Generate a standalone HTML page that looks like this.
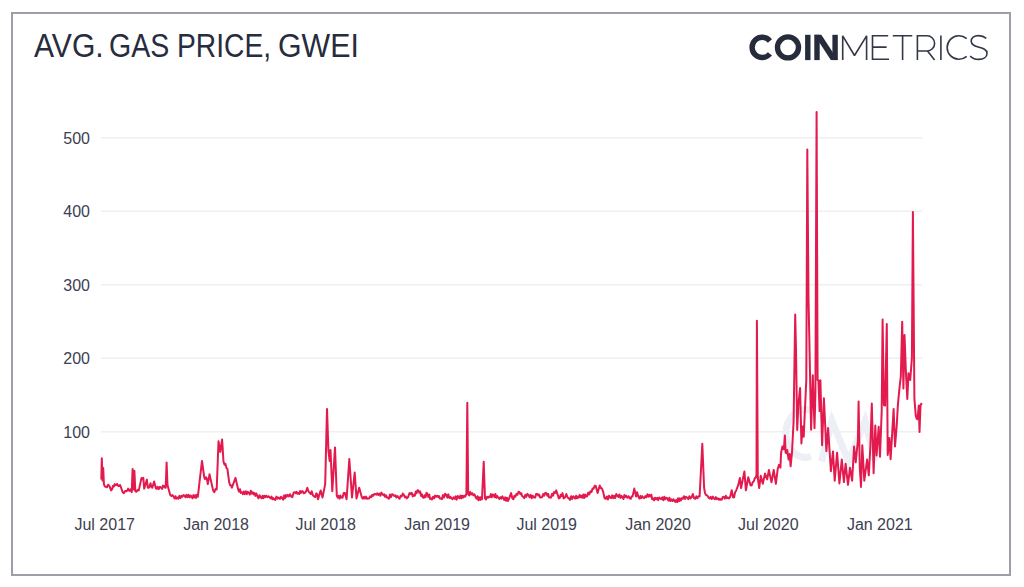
<!DOCTYPE html>
<html><head><meta charset="utf-8">
<style>
html,body{margin:0;padding:0;background:#fff;}
body{width:1024px;height:587px;position:relative;overflow:hidden;font-family:"Liberation Sans",sans-serif;}
.frame{position:absolute;left:11px;top:12px;width:996px;height:560px;border:2px solid #9d9fa8;}
.title{position:absolute;top:27px;font-size:33px;line-height:38px;color:#272c3e;white-space:nowrap;transform-origin:0 0;}
.yl{position:absolute;left:0;width:90px;text-align:right;font-size:16px;line-height:19px;color:#3c4051;}
.xl{position:absolute;top:515px;width:100px;text-align:center;font-size:16px;line-height:19px;color:#3c4051;}
svg{position:absolute;left:0;top:0;}
</style></head><body>
<div class="frame"></div>
<div class="title" style="left:34px;transform:scaleX(0.912)">AVG.</div><div class="title" style="left:109.4px;transform:scaleX(0.864)">GAS</div><div class="title" style="left:176.9px;transform:scaleX(0.855)">PRICE,</div><div class="title" style="left:277.5px;transform:scaleX(0.919)">GWEI</div>
<svg width="1024" height="587" viewBox="0 0 1024 587">
<g stroke="#efefef" stroke-width="1.5"><line x1="101" x2="922" y1="137.8" y2="137.8"/><line x1="101" x2="922" y1="211.3" y2="211.3"/><line x1="101" x2="922" y1="284.8" y2="284.8"/><line x1="101" x2="922" y1="358.3" y2="358.3"/><line x1="101" x2="922" y1="431.7" y2="431.7"/></g>
<g fill="none" stroke="#edeff6" stroke-width="7" stroke-linecap="butt" stroke-miterlimit="20">
<path d="M811,410.3 A20,24 0 1 0 811,456.7"/>
<path d="M821.5,461.5 L832,421 L848.5,461.5 L865,421 L875.5,461.5"/>
</g>
<g fill="#272c3d">
<path d="M762.2,47.4 m7.74,-6.49 A10.1,10.1 0 1 0 769.94,53.89" fill="none" stroke="#272c3d" stroke-width="5.4"/>
<circle cx="788" cy="47.4" r="10.5" fill="none" stroke="#272c3d" stroke-width="5.4"/>
<rect x="805.1" y="34.8" width="5.4" height="25.3"/>
<rect x="814.3" y="34.8" width="5.4" height="25.3"/>
<rect x="832.4" y="34.8" width="5.4" height="25.3"/>
<polygon points="814.3,34.8 821.3,34.8 837.8,60.1 830.8,60.1"/>
</g>
<g fill="none" stroke="#333748" stroke-width="1.6" stroke-miterlimit="1.5">
<path d="M842.7,60 V35.8 L854.5,55.5 L866.6,35.8 V60"/>
<path d="M888.2,35.8 H872.5 V59.2 H889 M872.5,47.1 H886.6"/>
<path d="M892.8,35.8 H912.3 M902.6,35.8 V60"/>
<path d="M917.4,60 V35.8 H927 A7.6,7.6 0 0 1 927,51 H917.4 M927.5,51 L934.6,60"/>
<path d="M940.9,35.4 V60"/>
<path d="M966.7,38.6 A11.8,11.8 0 1 0 966.7,56.4"/>
<path d="M986.3,38.3 C984,36.3 981.5,35.6 978.6,35.6 C974,35.6 971.2,38 971.2,41.3 C971.2,49.2 987,45.4 987,53.3 C987,56.8 984,59.4 978.6,59.4 C975,59.4 971.8,58 970.2,56"/>
</g>
<polyline fill="none" stroke="#e31a4e" stroke-width="2" stroke-linejoin="round" points="101.3,479.6 101.8,458.2 102.5,480.5 103.2,468.0 103.9,484.1 104.8,486.4 105.7,486.8 106.9,487.2 108.1,484.7 109.3,485.9 111.1,490.4 112.0,489.4 112.9,485.9 113.8,486.7 114.7,484.1 115.9,485.3 117.1,484.0 118.3,485.9 119.2,486.0 120.1,485.0 122.7,492.2 123.9,493.1 125.1,491.0 126.3,491.3 127.2,490.6 128.1,488.6 129.3,490.9 130.5,489.3 131.7,492.2 132.6,468.9 133.5,489.5 134.4,470.7 135.3,491.3 136.5,491.7 137.6,489.9 138.8,490.4 141.5,477.9 142.4,479.3 143.3,477.9 144.2,488.6 146.9,479.6 147.8,487.7 149.2,487.4 150.5,483.2 151.4,486.8 152.3,487.7 154.1,481.4 155.9,488.6 156.8,488.8 157.6,486.8 158.8,489.1 160.0,486.8 161.2,487.7 162.1,488.9 163.0,485.6 163.9,485.9 164.8,487.5 165.7,487.7 166.6,462.6 167.5,485.0 170.2,494.9 171.4,496.1 172.5,495.1 173.7,496.6 174.6,498.5 175.5,496.3 176.4,498.6 177.3,497.5 178.3,498.7 179.4,495.9 180.4,498.1 181.4,495.9 182.4,496.8 183.5,495.1 184.5,495.7 185.5,497.3 186.5,494.8 187.5,497.1 188.6,494.8 189.6,497.5 190.6,495.5 191.6,496.6 192.5,498.3 193.4,495.1 194.3,497.5 195.2,495.2 196.1,497.9 197.0,494.8 197.9,496.6 199.7,480.5 202.0,460.9 204.2,477.0 205.1,479.2 206.0,477.2 206.9,478.7 207.8,484.1 209.5,474.3 213.1,490.4 214.3,492.1 215.5,489.1 216.7,489.5 218.5,441.2 220.3,451.9 222.1,439.4 223.5,461.7 224.5,464.6 225.4,463.7 226.4,467.8 227.4,468.9 229.2,482.3 230.1,485.3 231.0,485.3 231.9,487.7 235.5,477.9 238.2,489.5 239.1,491.7 240.0,489.2 240.9,492.9 241.8,492.2 242.8,494.1 243.8,491.5 244.8,494.1 245.9,491.3 246.9,494.2 247.9,491.8 248.9,493.1 249.8,494.6 250.8,490.7 251.8,493.6 252.7,492.2 253.6,494.4 254.5,493.0 255.4,495.9 256.3,493.5 257.2,495.7 258.4,498.3 259.5,495.2 260.7,497.5 261.6,498.1 262.5,495.8 263.4,498.1 264.3,495.8 265.2,497.2 266.1,495.7 267.3,497.1 268.5,496.2 269.7,497.5 270.6,498.4 271.5,496.6 272.4,499.3 273.3,498.1 274.2,499.3 275.3,499.9 276.4,496.6 277.5,498.6 278.6,497.5 279.8,499.0 281.0,496.8 282.2,498.4 283.1,499.6 284.0,495.5 284.9,498.4 285.8,495.1 286.7,496.6 287.6,494.9 288.8,496.5 290.0,494.2 291.2,496.6 292.4,497.1 293.5,492.9 294.7,492.2 295.6,493.2 296.5,491.8 297.4,493.7 298.3,493.1 299.2,494.0 300.1,491.0 301.0,492.9 301.9,491.2 302.8,491.3 303.7,493.3 304.6,493.1 306.0,491.5 307.3,487.7 308.6,491.7 310.0,493.1 310.9,494.1 311.7,491.3 313.0,495.5 314.4,496.6 315.3,497.0 316.2,493.4 317.1,494.0 318.0,499.3 320.7,490.4 322.5,497.5 325.2,484.1 327.0,408.9 328.4,450.1 329.6,460.9 330.5,450.1 332.3,491.3 335.0,447.4 336.8,495.7 337.7,497.6 338.6,495.8 339.5,498.6 340.4,495.5 341.3,497.5 342.5,497.8 343.7,492.9 344.9,493.1 346.6,499.3 349.3,459.1 352.0,497.5 354.7,472.5 356.5,498.4 359.2,487.7 361.9,497.5 362.9,498.7 364.0,496.7 365.0,498.6 366.0,496.6 367.1,498.8 368.1,498.4 369.1,498.4 370.2,496.3 371.2,497.3 372.2,494.9 373.2,495.8 374.3,494.1 375.3,494.0 376.3,494.7 377.3,493.3 378.3,495.0 379.4,493.5 380.4,495.8 381.4,492.6 382.4,494.0 383.3,495.3 384.2,494.3 385.1,496.8 386.0,495.3 386.9,497.6 387.8,497.5 388.9,498.8 390.0,494.5 391.0,497.1 392.1,494.2 393.2,494.9 394.3,496.0 395.3,495.3 396.4,497.5 397.4,496.1 398.5,497.5 399.6,498.7 400.7,495.7 401.7,496.5 402.8,493.5 403.9,494.9 404.9,497.4 405.8,496.5 406.8,498.4 408.1,497.1 409.5,493.1 410.6,494.1 411.7,492.7 412.8,496.4 413.9,494.9 414.8,495.8 415.7,491.6 416.6,493.1 417.5,490.2 418.4,490.4 419.3,492.6 420.2,491.6 421.1,496.0 422.0,494.4 422.9,497.5 423.8,497.8 424.7,495.3 425.6,497.1 426.5,492.7 427.4,494.0 428.3,496.9 429.2,494.5 430.1,499.0 431.0,498.4 432.0,499.6 433.1,496.7 434.1,498.3 435.1,495.6 436.2,496.7 437.2,495.7 438.1,496.9 439.0,496.1 439.9,498.6 440.8,498.4 441.9,499.2 443.0,495.1 444.0,497.5 445.1,493.7 446.2,494.9 447.3,497.6 448.3,494.4 449.4,498.0 450.4,496.9 451.5,498.4 452.5,499.1 453.6,497.3 454.6,498.8 455.6,496.4 456.6,499.6 457.7,495.9 458.7,497.5 459.6,498.4 460.5,495.4 461.4,498.3 462.3,495.7 463.2,497.5 464.1,495.7 465.2,496.7 466.4,494.0 467.3,402.7 468.2,494.0 469.2,495.4 470.1,491.9 471.1,494.5 472.1,493.1 473.3,495.3 474.5,494.3 475.7,497.5 476.6,498.8 477.5,496.3 478.4,500.2 479.3,497.4 480.2,499.9 481.1,497.1 482.0,499.3 483.7,461.7 485.0,498.4 486.0,499.5 487.1,496.7 488.1,497.7 489.1,496.6 490.0,497.0 490.9,494.1 491.8,497.3 492.7,494.5 493.6,494.9 494.5,497.2 495.4,494.0 496.3,497.9 497.2,496.0 498.1,497.5 499.2,499.0 500.2,497.2 501.3,498.6 502.3,496.3 503.4,498.4 504.3,500.0 505.2,497.4 506.1,500.8 507.0,497.8 507.9,501.0 508.8,499.3 511.1,493.1 512.4,498.4 513.4,499.3 514.4,495.8 515.4,496.6 516.5,493.9 517.5,494.8 518.5,491.7 519.5,492.2 520.4,494.2 521.3,493.3 522.2,496.2 523.1,496.6 524.2,498.1 525.3,494.9 526.3,496.8 527.4,493.9 528.5,494.9 529.6,497.3 530.7,494.8 531.7,498.3 532.8,495.7 533.9,497.5 535.1,497.6 536.2,493.9 537.4,494.0 538.3,495.4 539.2,494.6 540.1,497.4 541.0,497.5 542.1,497.1 543.2,494.0 544.2,495.6 545.3,492.8 546.4,493.1 547.3,495.8 548.2,494.0 549.1,497.4 550.0,497.5 551.0,497.6 552.1,493.8 553.1,495.6 554.1,492.1 555.2,492.9 556.2,490.4 558.9,498.4 559.8,497.9 560.7,494.8 561.6,496.1 562.5,493.1 563.6,498.4 565.0,497.5 566.3,494.0 567.6,497.5 568.9,498.4 570.0,499.9 571.1,496.2 572.1,499.0 573.2,496.3 574.3,497.5 575.2,498.5 576.1,495.8 577.0,498.4 577.9,496.6 578.8,497.6 579.7,494.9 580.6,497.1 581.5,495.7 582.4,497.8 583.3,494.5 584.2,498.1 585.1,494.5 586.0,496.6 587.1,496.2 588.2,492.6 589.3,494.5 590.4,491.3 591.5,492.0 592.6,488.4 593.6,488.7 594.7,485.8 595.8,485.9 597.6,493.1 599.7,485.5 600.8,488.0 601.9,488.5 603.0,491.3 604.7,498.4 605.8,498.8 606.9,496.5 607.9,499.5 609.0,495.8 610.1,497.5 611.1,498.0 612.2,495.4 613.2,498.2 614.2,495.8 615.2,498.0 616.3,494.0 617.3,495.7 618.4,496.9 619.4,494.5 620.5,497.9 621.5,495.9 622.6,497.5 623.5,499.0 624.4,494.9 625.3,496.9 626.2,495.7 627.4,497.7 628.6,496.2 629.8,498.4 630.7,498.8 631.6,496.4 632.5,496.6 634.3,488.6 636.1,496.6 637.0,492.2 638.7,497.5 639.6,498.5 640.5,495.9 641.4,498.0 642.3,496.2 643.2,497.5 644.2,498.2 645.3,496.1 646.4,497.2 647.4,494.3 648.5,496.6 649.5,494.9 650.4,496.4 651.3,494.7 652.2,499.2 653.1,498.4 654.1,500.4 655.1,497.7 656.1,499.3 657.2,497.8 658.2,500.1 659.2,497.5 660.2,498.4 661.2,499.1 662.3,497.3 663.3,500.3 664.3,496.7 665.3,499.3 666.4,497.7 667.4,498.4 668.4,500.7 669.4,497.8 670.4,501.1 671.5,499.3 672.5,500.9 673.5,499.2 674.5,501.1 675.4,501.9 676.3,499.8 677.2,502.0 678.1,498.3 679.0,501.1 679.9,498.4 680.8,500.5 681.7,498.4 682.8,498.8 683.9,496.2 684.9,499.0 686.0,496.7 687.1,497.5 688.3,499.1 689.4,496.2 690.6,498.4 691.7,497.1 692.8,494.0 694.2,498.4 695.3,498.7 696.4,496.4 697.4,498.2 698.5,496.3 699.6,496.6 702.3,443.8 704.1,487.7 705.0,493.1 706.2,495.3 707.3,495.5 708.5,497.5 709.6,498.5 710.7,496.9 711.7,499.0 712.8,496.6 713.9,498.4 714.9,499.3 715.9,497.1 716.9,499.1 717.9,498.3 718.9,499.8 719.8,498.7 720.8,499.7 721.8,499.6 722.7,497.2 723.7,496.8 724.8,498.6 725.9,495.8 726.9,498.1 728.0,497.5 729.1,498.4 730.2,496.8 731.7,490.3 733.1,497.5 734.1,497.2 735.0,492.5 736.0,491.0 738.2,485.2 739.9,478.0 741.1,488.1 742.5,480.9 744.4,471.4 745.9,490.3 748.3,477.2 750.5,485.2 751.6,485.5 752.7,482.3 753.8,481.3 754.9,478.0 755.7,477.8 756.5,475.1 756.9,320.8 757.8,478.0 759.2,488.1 760.7,475.8 762.8,483.8 765.0,473.6 767.2,479.4 768.9,470.0 771.5,482.3 773.7,470.0 775.9,483.8 777.7,469.0 779.0,464.9 780.4,467.6 781.1,452.7 782.4,446.5 783.8,449.3 784.9,435.6 785.6,452.7 786.4,453.1 787.2,449.9 788.6,459.5 789.7,454.0 790.6,466.3 792.0,452.7 793.6,421.1 795.2,314.6 796.0,349.4 796.6,390.5 797.2,430.0 798.4,404.1 800.1,388.0 801.4,443.5 802.6,426.4 803.7,436.7 806.3,380.0 807.3,149.4 808.5,299.0 809.3,337.0 811.1,429.8 812.8,375.3 814.5,428.1 815.4,393.9 816.6,111.9 817.6,380.0 818.4,380.4 819.6,411.1 820.4,380.2 822.1,445.2 823.9,398.3 826.4,451.1 828.1,428.1 830.9,471.2 833.0,451.4 834.7,480.7 837.1,452.7 839.4,483.4 841.8,459.6 843.9,482.1 845.6,463.7 848.0,484.8 850.0,467.7 852.1,480.7 854.1,446.6 855.7,462.3 857.9,440.5 858.6,401.6 859.8,468.2 861.0,486.9 862.3,445.2 864.3,480.7 867.1,459.6 868.8,475.3 870.4,445.9 871.8,403.5 873.6,473.2 875.3,425.5 876.6,455.5 878.7,426.8 880.0,456.7 881.7,410.7 882.6,319.6 883.9,405.0 885.1,405.6 886.8,323.9 887.7,455.0 889.4,437.9 890.6,459.2 892.3,431.1 893.6,409.0 895.0,446.4 896.7,426.0 897.9,404.7 899.6,386.8 900.8,376.7 902.2,321.8 903.4,388.6 904.5,334.9 905.9,371.6 907.3,398.9 908.5,373.3 910.2,380.1 911.9,358.0 912.9,211.9 914.4,398.9 915.8,415.8 916.6,418.6 917.5,419.2 918.8,405.6 919.5,432.0 920.5,405.6 921.7,403.0"/>
</svg>
<div class="yl" style="top:128.8px">500</div><div class="yl" style="top:202.3px">400</div><div class="yl" style="top:275.8px">300</div><div class="yl" style="top:349.3px">200</div><div class="yl" style="top:422.7px">100</div>
<div class="xl" style="left:54.7px">Jul 2017</div><div class="xl" style="left:166.1px">Jan 2018</div><div class="xl" style="left:275.7px">Jul 2018</div><div class="xl" style="left:387.1px">Jan 2019</div><div class="xl" style="left:496.7px">Jul 2019</div><div class="xl" style="left:608.1px">Jan 2020</div><div class="xl" style="left:718.3px">Jul 2020</div><div class="xl" style="left:829.8px">Jan 2021</div>
</body></html>
